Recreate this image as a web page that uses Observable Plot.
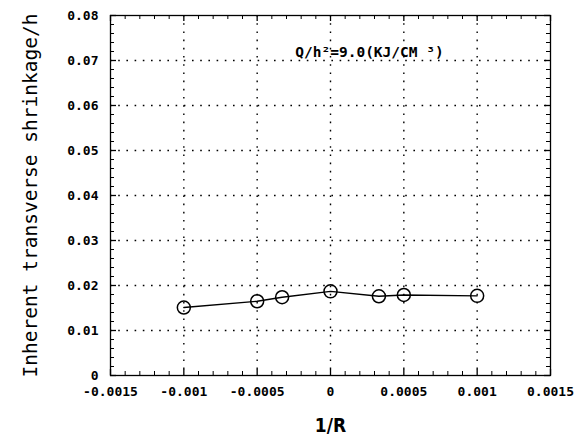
<!DOCTYPE html>
<html>
<head>
<meta charset="utf-8">
<script src="https://cdn.jsdelivr.net/npm/d3@7"></script>
<script src="https://cdn.jsdelivr.net/npm/@observablehq/plot@0.6"></script>
<style>
  html, body { margin: 0; padding: 0; background: #fff; }
  #chart svg { display: block; background: #fff; }
  g[aria-label="x-axis tick label"] text,
  g[aria-label="y-axis tick label"] text {
    font-family: "DejaVu Sans Mono", monospace;
    font-weight: bold;
    font-size: 13px;
    fill: #000;
  }
</style>
</head>
<body>
<div id="chart"></div>
<script>
// ---- data ----
const invR = [-0.001, -0.0005, -0.00033, 0, 0.00033, 0.0005, 0.001];
const shrinkage = [0.0151, 0.0165, 0.0174, 0.0187, 0.0176, 0.0179, 0.0177];

const xTicks = [-0.0015, -0.001, -0.0005, 0, 0.0005, 0.001, 0.0015];
const yTicks = [0, 0.01, 0.02, 0.03, 0.04, 0.05, 0.06, 0.07, 0.08];
const xTickLabels = ["-0.0015", "-0.001", "-0.0005", "0", "0.0005", "0.001", "0.0015"];
const yTickLabels = ["0", "0.01", "0.02", "0.03", "0.04", "0.05", "0.06", "0.07", "0.08"];

const xTitle = "1/R";
const yTitle = "Inherent transverse shrinkage/h";
const noteText = "Q/h²=9.0(KJ/CM ³)";
const noteX = [-0.00024];
const noteY = [0.0718];

// ---- build ----
const xDomain = [-0.0015, 0.0015], yDomain = [0, 0.08];
const data = invR.map((x, i) => ({x, y: shrinkage[i]}));
const note = [{x: noteX[0], y: noteY[0], text: noteText}];

const xMinor = d3.range(-15, 16).filter(k => k % 5 !== 0).map(k => k / 10000);
const yMinor = d3.range(0, 41).filter(k => k % 5 !== 0).map(k => k / 500);
const xGrid = xTicks.slice(1, -1);
const yGrid = yTicks.slice(1, -1);

const W = 582, H = 437, mL = 110, mR = 32, mT = 15, mB = 62;
const innerW = W - mL - mR, innerH = H - mT - mB;
const ySpan = yDomain[1] - yDomain[0], xSpan = xDomain[1] - xDomain[0];
const len = (px, span, inner) => px * span / inner;
const majorPx = 6, minorPx = 4;
const dots = {stroke: "#000", strokeWidth: 1.4, strokeDasharray: "1.6,6.6"};

function xTickMarks(values, px, w) {
  const l = len(px, ySpan, innerH);
  return [
    Plot.ruleX(values, {x: d => d, y1: () => yDomain[0], y2: () => yDomain[0] + l, stroke: "#000", strokeWidth: w}),
    Plot.ruleX(values, {x: d => d, y1: () => yDomain[1] - l, y2: () => yDomain[1], stroke: "#000", strokeWidth: w})
  ];
}
function yTickMarks(values, px, w) {
  const l = len(px, xSpan, innerW);
  return [
    Plot.ruleY(values, {y: d => d, x1: () => xDomain[0], x2: () => xDomain[0] + l, stroke: "#000", strokeWidth: w}),
    Plot.ruleY(values, {y: d => d, x1: () => xDomain[1] - l, x2: () => xDomain[1], stroke: "#000", strokeWidth: w})
  ];
}

const chart = Plot.plot({
  width: W, height: H,
  marginLeft: mL, marginRight: mR, marginTop: mT, marginBottom: mB,
  style: {background: "#fff", color: "#000"},
  x: {domain: xDomain},
  y: {domain: yDomain},
  marks: [
    Plot.ruleX(xGrid, dots),
    Plot.ruleY(yGrid, dots),
    ...xTickMarks(xTicks, majorPx, 1.3),
    ...xTickMarks(xMinor, minorPx, 1),
    ...yTickMarks(yTicks, majorPx, 1.3),
    ...yTickMarks(yMinor, minorPx, 1),
    Plot.frame({stroke: "#000", strokeWidth: 1.3}),
    Plot.axisX({
      ticks: xTicks, tickSize: 0, tickPadding: 11,
      tickFormat: d => xTickLabels[xTicks.indexOf(d)],
      label: null
    }),
    Plot.axisY({
      ticks: yTicks, tickSize: 0, tickPadding: 12,
      tickFormat: d => yTickLabels[yTicks.indexOf(d)],
      label: null
    }),
    Plot.line(data, {x: "x", y: "y", stroke: "#000", strokeWidth: 1.4}),
    Plot.dot(data, {x: "x", y: "y", r: 6.5, stroke: "#000", strokeWidth: 1.5, fill: "none"}),
    Plot.text(note, {
      x: "x", y: "y", text: "text", textAnchor: "start", lineAnchor: "middle",
      fontFamily: "DejaVu Sans Mono, monospace", fontWeight: "bold", fontSize: 14.5, fill: "#000"
    }),
    Plot.text([yTitle], {
      frameAnchor: "left", text: d => d, rotate: -90, dx: -80,
      textAnchor: "middle", lineAnchor: "middle",
      fontFamily: "DejaVu Sans Mono, monospace", fontSize: 19.5, fill: "#000"
    }),
    Plot.text([xTitle], {
      frameAnchor: "bottom", text: d => d, dy: 50,
      textAnchor: "middle", lineAnchor: "middle",
      fontFamily: "Liberation Sans Narrow, DejaVu Sans Condensed, sans-serif",
      fontWeight: "bold", fontSize: 19, fill: "#000"
    })
  ]
});
document.getElementById("chart").appendChild(chart);
</script>
</body>
</html>
